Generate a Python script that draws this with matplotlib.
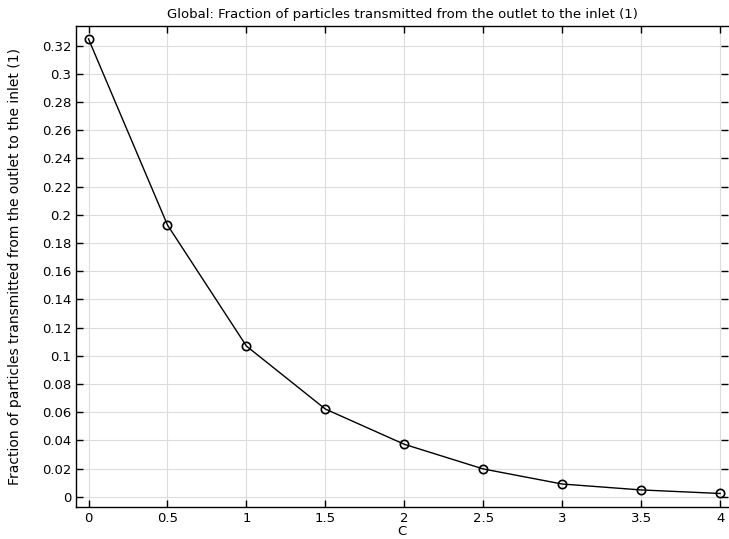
import matplotlib
matplotlib.use("Agg")
import matplotlib.pyplot as plt

c_vals = [0, 0.5, 1, 1.5, 2, 2.5, 3, 3.5, 4]
fraction = [0.3248, 0.1928, 0.1069, 0.0622, 0.0372, 0.0197, 0.0090, 0.0048, 0.0023]
xticks = [0, 0.5, 1, 1.5, 2, 2.5, 3, 3.5, 4]
yticks = [0, 0.02, 0.04, 0.06, 0.08, 0.1, 0.12, 0.14, 0.16, 0.18, 0.2,
          0.22, 0.24, 0.26, 0.28, 0.3, 0.32]

plt.rcParams['font.family'] = 'DejaVu Sans'
plt.rcParams['font.size'] = 9

fig = plt.figure(figsize=(7.29, 5.39), dpi=100)
ax = fig.add_axes([0.1043, 0.0599, 0.8943, 0.8919])

ax.plot(c_vals, fraction, color='black', linewidth=1, marker='o', markersize=6,
        markerfacecolor='none', markeredgecolor='black', markeredgewidth=1.2, zorder=3)

ax.set_xlim(-0.079, 4.05)
ax.set_ylim(-0.0071, 0.334)
ax.set_xticks(xticks)
ax.set_xticklabels(['0', '0.5', '1', '1.5', '2', '2.5', '3', '3.5', '4'])
ax.set_yticks(yticks)
ax.set_yticklabels(['0', '0.02', '0.04', '0.06', '0.08', '0.1', '0.12', '0.14', '0.16',
                    '0.18', '0.2', '0.22', '0.24', '0.26', '0.28', '0.3', '0.32'])
ax.grid(True, color='#dcdcdc', linewidth=0.8)
ax.set_axisbelow(True)
ax.tick_params(direction='in', length=5, width=1, top=True, labelsize=9.5)
ax.tick_params(axis='y', which='both', right=True)
ax.yaxis.set_tick_params(which='major', length=5)

for s in ax.spines.values():
    s.set_linewidth(1)
ax.spines['right'].set_visible(False)

ax.set_title('Global: Fraction of particles transmitted from the outlet to the inlet (1)',
             fontsize=9.5, pad=6)
ax.set_xlabel('C', fontsize=9.5, labelpad=0)
ax.set_ylabel('Fraction of particles transmitted from the outlet to the inlet (1)',
              fontsize=10, labelpad=14)

fig.savefig('out.png', dpi=100)
